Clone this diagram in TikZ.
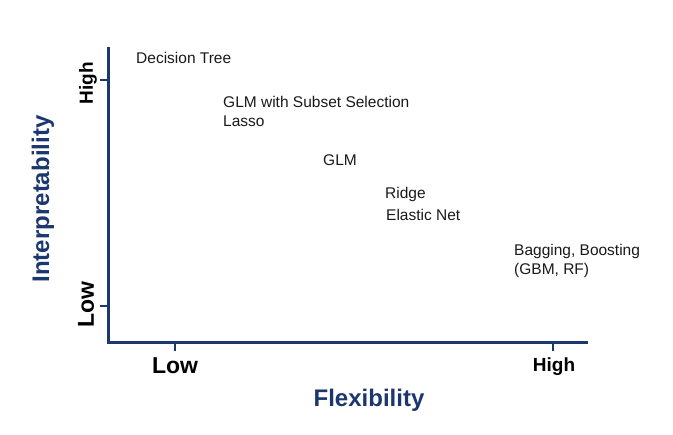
\documentclass[tikz,border=0pt]{standalone}
\usepackage{fontspec}
\setmainfont{Liberation Sans}
\definecolor{axisblue}{RGB}{28,55,112}
\begin{document}
\begin{tikzpicture}[x=1pt,y=-1pt,
  axisline/.style={draw=axisblue,line width=3pt},
  tickline/.style={draw=axisblue,line width=2.5pt},
  model/.style={anchor=west,inner sep=0pt,font=\fontsize{15.5}{18}\selectfont,text=black!90},
  ticklab/.style={inner sep=0pt,text=black},
  axislab/.style={inner sep=0pt,font=\fontsize{24}{28}\selectfont\bfseries,text=axisblue}]
\useasboundingbox (0,0) rectangle (673,435);
% axes
\coordinate (top) at (108,49);
\coordinate (origin) at (108,343);
\coordinate (right) at (586,343);
\draw[axisline,line cap=rect] (top) -- (origin) -- (right);
% ticks
\coordinate (xlow) at (175,343);
\coordinate (xhigh) at (553,343);
\coordinate (ylow) at (108,306);
\coordinate (yhigh) at (108,80);
\draw[tickline] (xlow) -- ++(0,8);
\draw[tickline] (xhigh) -- ++(0,8);
\draw[tickline] (ylow) -- ++(-8,0);
\draw[tickline] (yhigh) -- ++(-8,0);
% tick labels
\node[ticklab,font=\fontsize{23}{26}\selectfont\bfseries] (lxl) at (175,366) {Low};
\node[ticklab,font=\fontsize{19}{22}\selectfont\bfseries] (lxh) at (554,367) {High};
\node[ticklab,font=\fontsize{23}{26}\selectfont\bfseries,rotate=90] (lyl) at (86,305) {Low};
\node[ticklab,font=\fontsize{19}{22}\selectfont\bfseries,rotate=90] (lyh) at (88,83) {High};
% axis titles
\node[axislab] (xt) at (369,400) {Flexibility};
\node[axislab,rotate=90] (yt) at (43,199) {Interpretability};
% models
\node[model] (dt) at (136,58) {Decision Tree};
\node[model] (glmss) at (223,102) {GLM with Subset Selection};
\node[model] (lasso) at (223,121) {Lasso};
\node[model] (glm) at (323,160) {GLM};
\node[model] (ridge) at (385,194) {Ridge};
\node[model] (enet) at (386,215) {Elastic Net};
\node[model] (bag) at (514,251) {Bagging, Boosting};
\node[model] (gbm) at (514,270) {(GBM, RF)};
\end{tikzpicture}
\end{document}
